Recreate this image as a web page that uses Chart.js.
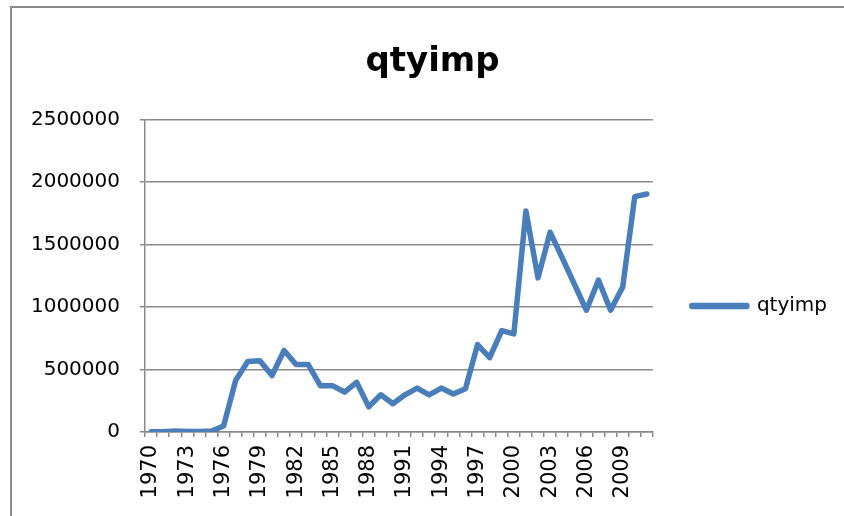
<!DOCTYPE html>
<html>
<head>
<meta charset="utf-8">
<script src="https://cdn.jsdelivr.net/npm/chart.js@4/dist/chart.umd.min.js"></script>
<style>
  html, body { margin: 0; padding: 0; background: #fff; overflow: hidden; }
  #wrap { position: absolute; left: 0; top: 0; width: 844px; height: 516px; }
</style>
</head>
<body>
<div id="wrap"><canvas id="chart"></canvas></div>
<script>
const years = [];
for (let y = 1970; y <= 2011; y++) years.push(String(y));

// values
const qtyimp = [
    2000, 3000, 9000, 4000, 5000, 8000, 48000, 415000, 565000, 570000,
    452000, 653000, 540000, 540000, 371000, 371000, 320000, 398000, 202000, 298000,
    226000, 298000, 352000, 298000, 352000, 304000, 346000, 700000, 595000, 812000,
    785000, 1770000, 1234000, 1600000, 1395000, 1185000, 975000, 1216000, 975000, 1160000,
    1885000, 1906000
];

const yTicks = [0, 500000, 1000000, 1500000, 2000000, 2500000];

const gridColor = "#8a8a8a";
const lineBlue = "#4a7ebb";
const font = "'DejaVu Sans', sans-serif";

// the outer chart frame (only left and top edges are inside the picture)
const framePlugin = {
    id: "frame",
    beforeDraw(chart) {
        const c = chart.ctx;
        c.save();
        c.strokeStyle = "#8c8c8c";
        c.lineWidth = 2;
        c.beginPath();
        c.moveTo(11, chart.height + 5);
        c.lineTo(11, 7);
        c.lineTo(chart.width + 5, 7);
        c.stroke();
        c.restore();
    }
};

const ctx = document.getElementById("chart").getContext("2d");

new Chart(ctx, {
    type: "line",
    data: {
        labels: years,
        datasets: [{
            label: "qtyimp",
            data: qtyimp,
            borderColor: lineBlue,
            backgroundColor: lineBlue,
            borderWidth: 5.5,
            pointRadius: 0,
            tension: 0,
            borderJoinStyle: "round",
            borderCapStyle: "round"
        }]
    },
    options: {
        responsive: true,
        maintainAspectRatio: false,
        animation: false,
        layout: { padding: { left: 28, right: 7, top: 0, bottom: 0 } },
        plugins: {
            title: {
                display: true,
                text: "qtyimp",
                color: "#000",
                font: { family: font, size: 34, weight: "bold" },
                padding: { top: 42, bottom: 37 }
            },
            legend: {
                position: "right",
                title: {
                    display: true,
                    text: " ",
                    font: { size: 10, lineHeight: 1.2 },
                    padding: { top: 42, bottom: 42 }
                },
                labels: {
                    boxWidth: 55,
                    boxHeight: 1,
                    padding: 39,
                    color: "#000",
                    font: { family: font, size: 20 }
                }
            },
            tooltip: { enabled: false }
        },
        scales: {
            x: {
                type: "category",
                offset: true,
                grid: {
                    offset: true,
                    drawOnChartArea: false,
                    drawTicks: true,
                    tickLength: 5,
                    color: gridColor,
                    lineWidth: 1.5
                },
                border: { color: gridColor, width: 1.5 },
                ticks: {
                    autoSkip: false,
                    maxRotation: 90,
                    minRotation: 90,
                    padding: 8,
                    color: "#000",
                    font: { family: font, size: 21 },
                    callback: function (value, index) {
                        return index % 3 === 0 ? years[index] : "";
                    }
                },
                afterFit: function (scale) { scale.height = 84; }
            },
            y: {
                min: 0,
                max: 2500000,
                afterBuildTicks: function (scale) {
                    scale.ticks = yTicks.map(v => ({ value: v }));
                },
                grid: {
                    color: gridColor,
                    lineWidth: 1.5,
                    drawTicks: true,
                    tickLength: 5
                },
                border: { color: gridColor, width: 1.5 },
                ticks: {
                    padding: 20,
                    color: "#000",
                    font: { family: font, size: 20 },
                    callback: value => String(value)
                },
                afterFit: function (scale) { scale.width = 117; }
            }
        }
    },
    plugins: [framePlugin]
});
</script>
</body>
</html>
